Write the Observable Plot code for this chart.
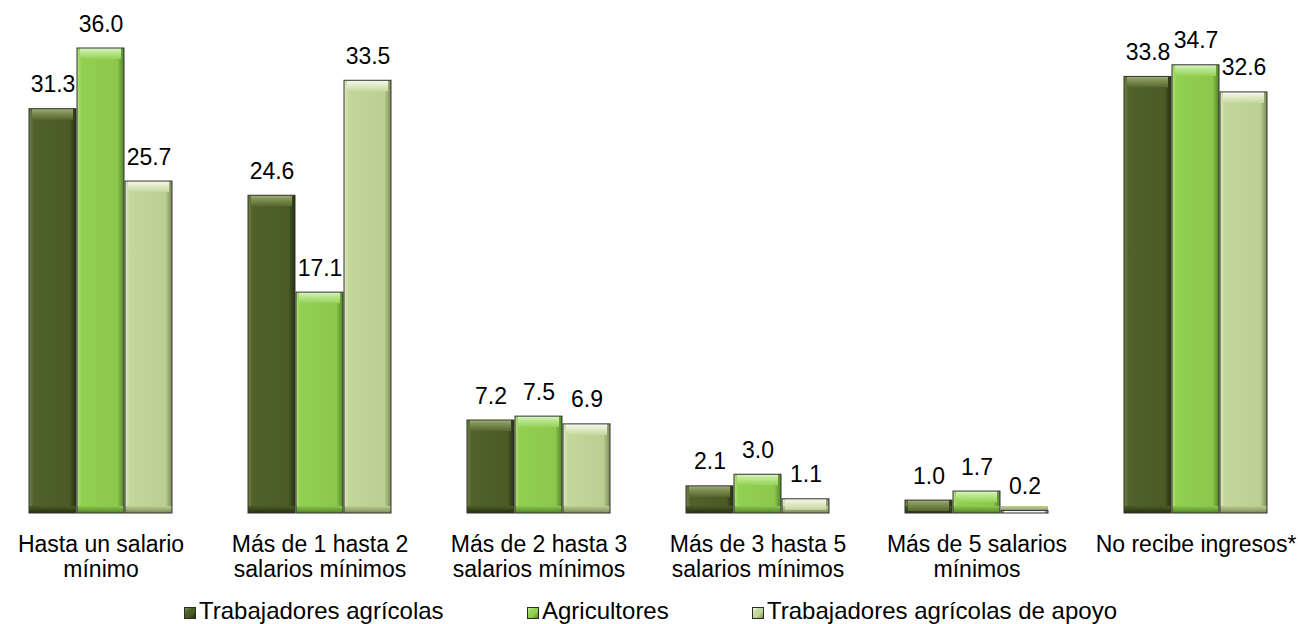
<!DOCTYPE html>
<html>
<head>
<meta charset="utf-8">
<script src="https://cdn.jsdelivr.net/npm/d3@7"></script>
<script src="https://cdn.jsdelivr.net/npm/@observablehq/plot@0.6"></script>
<style>
  html, body { margin: 0; padding: 0; background: #fff; }
  body { width: 1298px; height: 624px; overflow: hidden; font-family: "Liberation Sans", Arial, sans-serif; }
  #chart svg { display: block; }
  #legend { position: relative; height: 32px; font-size: 24px; line-height: 24px; color: #000; }
  .item { position: absolute; top: 7px; white-space: nowrap; }
  .sw { position: absolute; left: 0; top: 8px; width: 12px; height: 12px; box-sizing: border-box; border: 1px solid #2a2a2a; }
  .lt { position: absolute; left: 15px; top: 0; }
</style>
</head>
<body>
<svg width="0" height="0" style="position:absolute">
  <defs>
    <linearGradient id="b0" x1="0" x2="1" y1="0" y2="0">
      <stop offset="0" stop-color="#6f8244"/><stop offset="0.1" stop-color="#50622a"/>
      <stop offset="0.86" stop-color="#4a5b26"/><stop offset="1" stop-color="#27310f"/>
    </linearGradient>
    <linearGradient id="b1" x1="0" x2="1" y1="0" y2="0">
      <stop offset="0" stop-color="#b0e07c"/><stop offset="0.1" stop-color="#92d050"/>
      <stop offset="0.86" stop-color="#8cc84c"/><stop offset="1" stop-color="#53822a"/>
    </linearGradient>
    <linearGradient id="b2" x1="0" x2="1" y1="0" y2="0">
      <stop offset="0" stop-color="#dde8c3"/><stop offset="0.1" stop-color="#c4d79b"/>
      <stop offset="0.86" stop-color="#bccf93"/><stop offset="1" stop-color="#7b8a58"/>
    </linearGradient>
    <linearGradient id="t0" x1="0" x2="0" y1="0" y2="1">
      <stop offset="0" stop-color="#a3b37c"/><stop offset="0.3" stop-color="#849658"/><stop offset="1" stop-color="#55672e"/>
    </linearGradient>
    <linearGradient id="t1" x1="0" x2="0" y1="0" y2="1">
      <stop offset="0" stop-color="#e0f5c8"/><stop offset="0.3" stop-color="#c0ea9a"/><stop offset="1" stop-color="#95d255"/>
    </linearGradient>
    <linearGradient id="t2" x1="0" x2="0" y1="0" y2="1">
      <stop offset="0" stop-color="#f8faf0"/><stop offset="0.3" stop-color="#e8efd5"/><stop offset="1" stop-color="#c6d89e"/>
    </linearGradient>
    <linearGradient id="d0" x1="0" x2="0" y1="0" y2="1">
      <stop offset="0" stop-color="#4b5c27"/><stop offset="1" stop-color="#27310f"/>
    </linearGradient>
    <linearGradient id="d1" x1="0" x2="0" y1="0" y2="1">
      <stop offset="0" stop-color="#8cc84c"/><stop offset="1" stop-color="#53822a"/>
    </linearGradient>
    <linearGradient id="d2" x1="0" x2="0" y1="0" y2="1">
      <stop offset="0" stop-color="#bccf93"/><stop offset="1" stop-color="#7b8a58"/>
    </linearGradient>
  </defs>
</svg>
<div id="chart"></div>
<div id="legend"></div>
<script>
const categories = [
  "Hasta un salario\nmínimo",
  "Más de 1 hasta 2\nsalarios mínimos",
  "Más de 2 hasta 3\nsalarios mínimos",
  "Más de 3 hasta 5\nsalarios mínimos",
  "Más de 5 salarios\nmínimos",
  "No recibe ingresos*"
];
const seriesNames = ["Trabajadores agrícolas", "Agricultores", "Trabajadores agrícolas de apoyo"];
const trabajadores = [31.3, 24.6, 7.2, 2.1, 1.0, 33.8];
const agricultores = [36.0, 17.1, 7.5, 3.0, 1.7, 34.7];
const apoyo = [25.7, 33.5, 6.9, 1.1, 0.2, 32.6];

const seriesValues = [trabajadores, agricultores, apoyo];
const data = [];
categories.forEach((c, i) => {
  seriesNames.forEach((s, j) => {
    data.push({category: c, series: s, idx: j, value: seriesValues[j][i]});
  });
});

const font = "'Liberation Sans', Arial, sans-serif";

const chart = Plot.plot({
  width: 1298,
  height: 592,
  marginLeft: 0,
  marginRight: 2.5,
  marginTop: 48,
  marginBottom: 79,
  style: {fontFamily: font, fontSize: "23px", color: "#000", background: "#fff"},
  fx: {domain: categories, paddingInner: 0.34, paddingOuter: 0.118, label: null},
  x: {domain: seriesNames, paddingInner: 0.03, paddingOuter: 0, axis: null},
  y: {domain: [0, 36], axis: null},
  marks: [
    Plot.barY(data, {fx: "category", x: "series", y: "value", fill: d => `url(#b${d.idx})`}),
    Plot.barY(data, {fx: "category", x: "series", y1: 0, y2: 0, insetTop: -7, fill: d => `url(#d${d.idx})`, clip: "frame"}),
    Plot.barY(data, {fx: "category", x: "series", y1: "value", y2: "value", insetBottom: -11, insetLeft: 3, insetRight: 3, fill: d => `url(#t${d.idx})`, clip: "frame"}),
    Plot.barY(data, {fx: "category", x: "series", y: "value", fill: "none", stroke: "#333", strokeWidth: 1}),
    Plot.text(data, {fx: "category", x: "series", y: "value", text: d => d.value.toFixed(1), dy: -17, lineAnchor: "bottom", fontSize: 23, fill: "#000"}),
    Plot.axisFx({anchor: "bottom", tickSize: 0, tickPadding: 21, fontSize: 23, lineHeight: 1.08, label: null})
  ]
});
document.getElementById("chart").appendChild(chart);

const legendColors = [
  ["#7a8c4e", "#4b5c27", "#27310f"],
  ["#c0ea95", "#92d050", "#53822a"],
  ["#eef4de", "#c4d79b", "#7b8a58"]
];
const legendLeft = [184, 527, 752];
const legend = document.getElementById("legend");
seriesNames.forEach((s, j) => {
  const item = document.createElement("div");
  item.className = "item";
  item.style.left = legendLeft[j] + "px";
  const sw = document.createElement("span");
  sw.className = "sw";
  const [l, m, dk] = legendColors[j];
  sw.style.background = `linear-gradient(135deg, ${l} 0%, ${m} 40%, ${m} 60%, ${dk} 100%)`;
  const t = document.createElement("span");
  t.className = "lt";
  t.textContent = s;
  item.appendChild(sw);
  item.appendChild(t);
  legend.appendChild(item);
});
</script>
</body>
</html>
